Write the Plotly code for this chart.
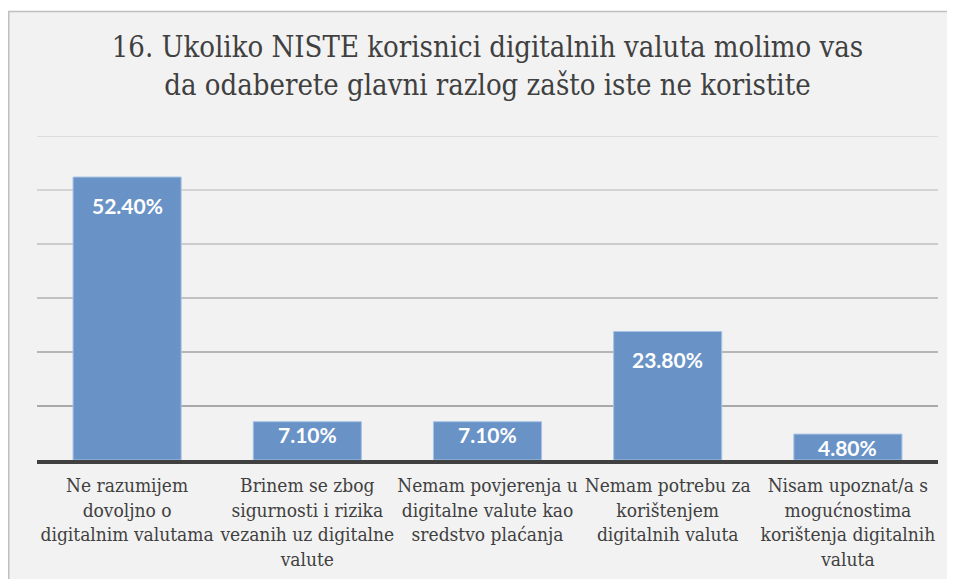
import plotly.graph_objects as go

categories = [
    "Ne razumijem<br>dovoljno o<br>digitalnim valutama",
    "Brinem se zbog<br>sigurnosti i rizika<br>vezanih uz digitalne<br>valute",
    "Nemam povjerenja u<br>digitalne valute kao<br>sredstvo plaćanja",
    "Nemam potrebu za<br>korištenjem<br>digitalnih valuta",
    "Nisam upoznat/a s<br>mogućnostima<br>korištenja digitalnih<br>valuta",
]
values = [52.4, 7.1, 7.1, 23.8, 4.8]
value_labels = ["52.40%", "7.10%", "7.10%", "23.80%", "4.80%"]
grid_values = [10, 20, 30, 40, 50, 60]
title_text = "16. Ukoliko NISTE korisnici digitalnih valuta molimo vas<br>da odaberete glavni razlog zašto iste ne koristite"

TITLE_FONT = "DejaVu Serif Condensed, DejaVu Serif"
TICK_FONT = "DejaVu Serif Condensed, DejaVu Serif"

# page body margin places the figure at (8, 8)
W, H = 947, 571
L, R, T, B = 29, 17, 128, 119

fig = go.Figure()
fig.add_trace(go.Bar(
    x=list(range(len(categories))),
    y=values,
    marker=dict(color="#6993c6", line=dict(color="#a9c3e4", width=1)),
    hoverinfo="skip",
))

for i, (v, lab) in enumerate(zip(values, value_labels)):
    fig.add_annotation(
        x=i, y=v, xref="x", yref="y", text="<b>" + lab + "</b>",
        showarrow=False, yanchor="middle",
        yshift=-28 if v > 15 else -13,
        font=dict(family="Lato", size=21, color="white"),
    )

grid_colors = {10: "#a9a9a9", 20: "#b6b6b6", 30: "#c1c1c1", 40: "#cbcbcb", 50: "#d4d4d4", 60: "#dcdcdc"}
for g in grid_values:
    fig.add_shape(type="line", xref="paper", yref="y", x0=0, x1=1, y0=g, y1=g,
                  line=dict(color=grid_colors[g], width=2), layer="below")

pw, ph = W - L - R, H - T - B
def px(xp):
    return (xp - L) / pw
def py(yp):
    return (H - B - yp) / ph

fig.add_shape(type="rect", xref="paper", yref="paper", x0=px(-2), x1=px(W + 2), y0=py(3), y1=py(-2),
              fillcolor="white", line=dict(width=0), layer="below")
fig.add_shape(type="line", xref="paper", yref="paper", x0=px(0), x1=px(W + 2), y0=py(3.5), y1=py(3.5),
              line=dict(color="#bfbfbf", width=1.5), layer="below")
fig.add_shape(type="line", xref="paper", yref="paper", x0=px(0.75), x1=px(0.75), y0=py(3), y1=py(H + 2),
              line=dict(color="#bfbfbf", width=1.5), layer="below")

fig.update_layout(
    width=W, height=H,
    margin=dict(l=L, r=R, t=T, b=B),
    paper_bgcolor="#f2f2f2",
    plot_bgcolor="rgba(0,0,0,0)",
    bargap=0.4,
    showlegend=False,
    title=dict(
        text=title_text,
        x=0.5, xref="paper", xanchor="center",
        y=1 - 49 / H, yref="container", yanchor="top",
        font=dict(family=TITLE_FONT, size=29, color="#404040"),
    ),
    xaxis=dict(
        tickmode="array", tickvals=list(range(len(categories))), ticktext=categories,
        range=[-0.5, len(categories) - 0.5],
        showgrid=False, zeroline=False, automargin=False,
        showline=True, linecolor="#404040", linewidth=4,
        ticks="outside", ticklen=5, tickcolor="rgba(0,0,0,0)",
        tickfont=dict(family=TICK_FONT, size=19, color="#404040"),
        fixedrange=True,
    ),
    yaxis=dict(
        range=[0, 60], showgrid=False, zeroline=False, showticklabels=False,
        showline=False, fixedrange=True, automargin=False,
    ),
)

fig.write_html("out.html")
